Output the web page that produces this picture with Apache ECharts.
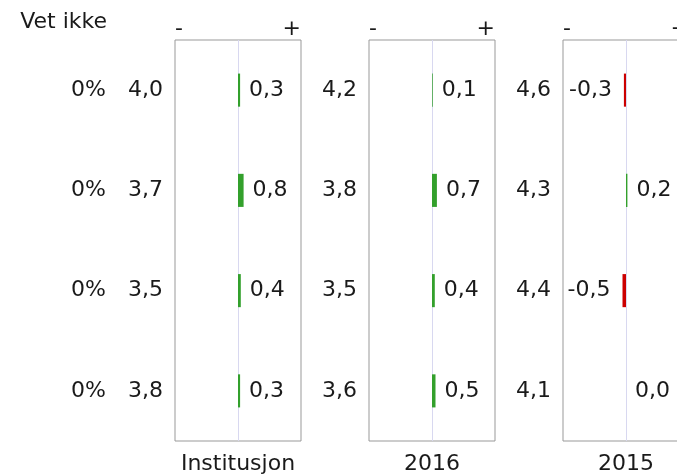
<!DOCTYPE html>
<html>
<head>
<meta charset="utf-8">
<script src="https://cdn.jsdelivr.net/npm/echarts@6/dist/echarts.min.js"></script>
<style>
  html, body { margin: 0; padding: 0; background: #fff; }
  #chart { width: 677px; height: 475px; }
</style>
</head>
<body>
<div id="chart"></div>
<script>
// ---- data ----
const panels = ['Institusjon', '2016', '2015'];
const rows = ['1', '2', '3', '4'];
const vetIkke = ['0%', '0%', '0%', '0%'];
const scoresInstitusjon = ['4,0', '3,7', '3,5', '3,8'];
const scores2016 = ['4,2', '3,8', '3,5', '3,6'];
const scores2015 = ['4,6', '4,3', '4,4', '4,1'];
const diffInstitusjon = [0.3, 0.8, 0.4, 0.3];
const diff2016 = [0.1, 0.7, 0.4, 0.5];
const diff2015 = [-0.3, 0.2, -0.5, 0.0];
const tickMinLabel = '-';
const tickMaxLabel = '+';
const vetIkkeTitle = 'Vet ikke';

const scores = [scoresInstitusjon, scores2016, scores2015];
const diffs = [diffInstitusjon, diff2016, diff2015];

// ---- layout / style ----
const FONT = 'DejaVu Sans';
const FS = 22;
const TXT = '#1a1a1a';
const GREEN = '#33a02c';
const RED = '#cc0000';
const gridLefts = [175, 369, 563];
const gridW = 126;
const gridTop = 40;
const gridH = 401;
const RANGE = 9;
const PAD = [4, 0, 0, 0];

const fmt = v => v.toFixed(1).replace('.', ',');

const grid = [], xAxis = [], yAxis = [], series = [];
panels.forEach((name, p) => {
  grid.push({
    left: gridLefts[p], top: gridTop, width: gridW, height: gridH,
    outerBoundsMode: 'none', containLabel: false,
    show: true, borderColor: '#999', borderWidth: 1, backgroundColor: 'transparent'
  });
  xAxis.push({
    gridIndex: p, type: 'value', position: 'top', min: -RANGE, max: RANGE, interval: RANGE,
    axisLine: { show: false }, axisTick: { show: false },
    splitLine: { show: true, showMinLine: false, showMaxLine: false,
      lineStyle: { color: '#d8d8f0', width: 1 } },
    axisLabel: {
      margin: 0, color: TXT, fontFamily: FONT, fontSize: FS,
      alignMinLabel: 'left', alignMaxLabel: 'right',
      formatter: v => v < 0 ? tickMinLabel : (v > 0 ? tickMaxLabel : '')
    }
  });
  xAxis.push({
    gridIndex: p, type: 'value', position: 'bottom', min: -RANGE, max: RANGE,
    axisLine: { show: false }, axisTick: { show: false }, splitLine: { show: false },
    axisLabel: { show: false },
    name: name, nameLocation: 'middle', nameGap: 12,
    nameTextStyle: { color: TXT, fontFamily: FONT, fontSize: FS }
  });
  yAxis.push({
    gridIndex: p, type: 'category', data: rows, inverse: true,
    axisLine: { show: false }, axisTick: { show: false }, splitLine: { show: false },
    axisLabel: {
      margin: 12, color: TXT, fontFamily: FONT, fontSize: FS, padding: PAD,
      formatter: (v, i) => scores[p][i]
    }
  });
  series.push({
    type: 'bar', xAxisIndex: p * 2, yAxisIndex: p, barWidth: '33%',
    data: diffs[p].map(v => ({
      value: v,
      itemStyle: { color: v < 0 ? RED : GREEN },
      label: { position: v < 0 ? 'left' : 'right', distance: v < 0 ? 12 : 9 }
    })),
    label: {
      show: true, distance: 9, color: TXT, fontFamily: FONT, fontSize: FS, padding: PAD,
      formatter: d => fmt(d.value)
    },
    animation: false
  });
});

// "Vet ikke" column as an extra y axis on the first grid
yAxis.push({
  gridIndex: 0, type: 'category', data: rows, inverse: true, position: 'left',
  axisLine: { show: false }, axisTick: { show: false }, splitLine: { show: false },
  axisLabel: {
    margin: 69, color: TXT, fontFamily: FONT, fontSize: FS, padding: PAD,
    formatter: (v, i) => vetIkke[i]
  }
});

const chart = echarts.init(document.getElementById('chart'), null, { renderer: 'canvas' });
chart.setOption({
  animation: false,
  backgroundColor: '#fff',
  textStyle: { fontFamily: FONT },
  graphic: [{
    type: 'text', right: 677 - 107, top: 11,
    style: { text: vetIkkeTitle, fill: TXT, font: FS + 'px "' + FONT + '"' }
  }],
  grid, xAxis, yAxis, series
});
</script>
</body>
</html>
